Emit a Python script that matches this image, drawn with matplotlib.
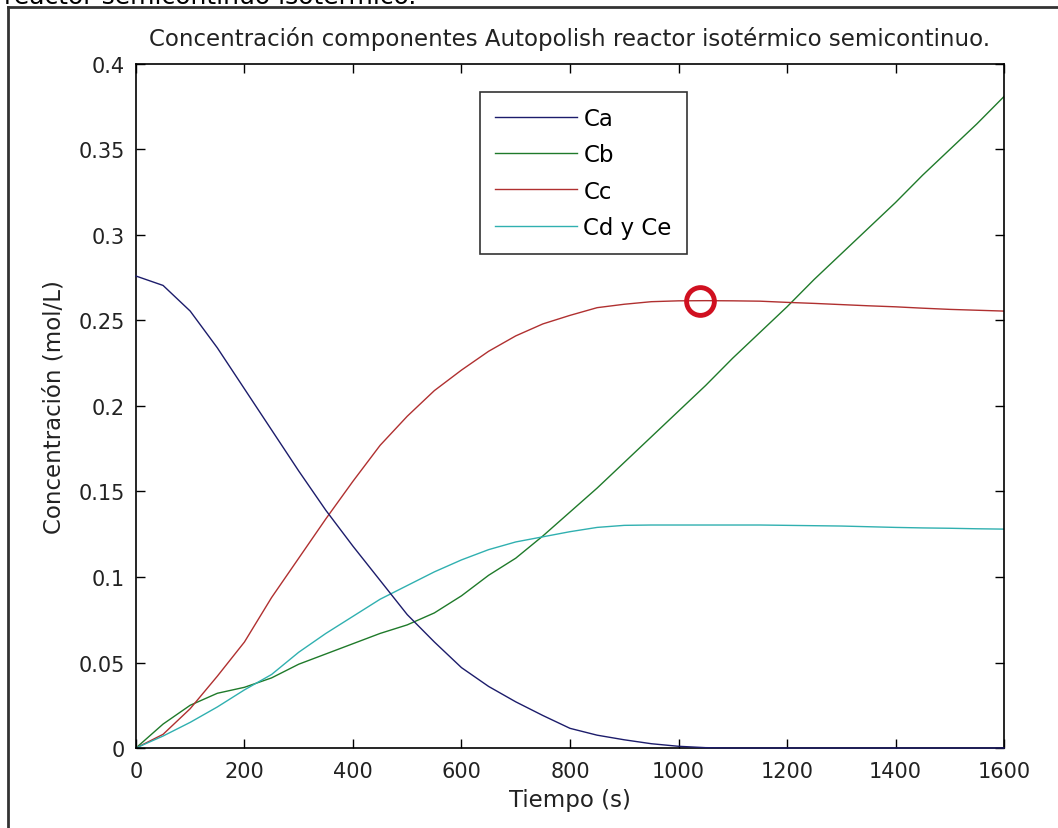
import numpy as np
import matplotlib
matplotlib.use("Agg")
import matplotlib.pyplot as plt
from matplotlib.lines import Line2D

# Concentraciones del reactor semicontinuo isotérmico (mol/L) frente al tiempo (s)
tiempo = [0, 50, 100, 150, 200, 250, 300, 350, 400, 450, 500, 550, 600, 650,
          700, 750, 800, 850, 900, 950, 1000, 1050, 1100, 1150, 1200, 1250,
          1300, 1350, 1400, 1450, 1500, 1550, 1600]

ca = [0.276, 0.2705, 0.2555, 0.234, 0.210, 0.186, 0.162, 0.139, 0.118, 0.098,
      0.078, 0.062, 0.047, 0.036, 0.027, 0.019, 0.0115, 0.0075, 0.0048, 0.0025,
      0.001, 0.0002, 0.0, 0.0, 0.0, 0.0, 0.0, 0.0, 0.0, 0.0, 0.0, 0.0, 0.0]

cb = [0.0, 0.014, 0.025, 0.032, 0.0355, 0.041, 0.049, 0.055, 0.061, 0.067,
      0.072, 0.079, 0.089, 0.101, 0.111, 0.124, 0.138, 0.152, 0.167, 0.182,
      0.197, 0.212, 0.228, 0.243, 0.258, 0.274, 0.289, 0.304, 0.319, 0.335,
      0.350, 0.365, 0.381]

cc = [0.0, 0.008, 0.023, 0.042, 0.062, 0.088, 0.111, 0.134, 0.156, 0.177,
      0.194, 0.209, 0.221, 0.232, 0.241, 0.248, 0.253, 0.2575, 0.2595, 0.261,
      0.2615, 0.2616, 0.2615, 0.2613, 0.2606, 0.260, 0.2593, 0.2586, 0.258,
      0.2572, 0.2565, 0.256, 0.2555]

cde = [0.0, 0.007, 0.015, 0.024, 0.034, 0.043, 0.056, 0.067, 0.077, 0.087,
       0.095, 0.103, 0.110, 0.116, 0.1205, 0.1235, 0.1265, 0.129, 0.1302, 0.1304,
       0.1304, 0.1304, 0.1304, 0.1304, 0.1302, 0.1300, 0.1298, 0.1294, 0.129,
       0.1287, 0.1285, 0.1282, 0.128]

# máximo de Cc
t_max = 1040
cc_max = 0.2616

etiquetas = ["Ca", "Cb", "Cc", "Cd y Ce"]
colores = ["#1c1c6b", "#1f7a2a", "#b03030", "#30b0b0"]

plt.rcParams['font.family'] = ['DejaVu Sans']

fig = plt.figure(figsize=(10.58, 8.29), dpi=100)
ax = fig.add_axes([0.1285, 0.0965, 0.8205, 0.8251])

for serie, nombre, color in zip([ca, cb, cc, cde], etiquetas, colores):
    ax.plot(tiempo, serie, color=color, lw=1.0, label=nombre)
# Ca se queda en cero sobre el eje inferior
ax.lines[0].set_clip_on(False)
ax.lines[0].set_zorder(5)

ax.plot([t_max], [cc_max], 'o', ms=20, mfc='none', mec='#d01020', mew=3.5)

ax.set_xlim(0, 1600)
ax.set_ylim(0, 0.4)
ax.set_xticks(np.arange(0, 1601, 200))
ax.set_yticks(np.arange(0, 0.401, 0.05))
ax.set_yticklabels(["0", "0.05", "0.1", "0.15", "0.2", "0.25", "0.3", "0.35", "0.4"])
ax.tick_params(direction='in', top=True, right=True, length=6.5, width=1.0,
               labelsize=15, labelcolor='#222222')
ax.tick_params(axis='x', pad=9.5)
ax.tick_params(axis='y', pad=8)
for s in ax.spines.values():
    s.set_linewidth(1.2)

ax.set_title("Concentración componentes Autopolish reactor isotérmico semicontinuo.",
             fontsize=16.5, pad=14, color='#222222')
ax.set_xlabel("Tiempo (s)", fontsize=16.5, labelpad=5, color='#222222')
ax.set_ylabel("Concentración (mol/L)", fontsize=16.5, labelpad=9, color='#222222')

leg = ax.legend(loc='upper left', bbox_to_anchor=(0.3963, 0.959), fontsize=16.5,
                frameon=True, fancybox=False, edgecolor='black',
                handlelength=3.6, handletextpad=0.26, labelspacing=0.58,
                borderpad=0.65, borderaxespad=0)
leg.get_frame().set_linewidth(1.2)

# marco exterior de la figura y texto superior recortado
fig.add_artist(Line2D([0.0076, 0.0076], [0, 0.9903], color='#333333', lw=2))
fig.add_artist(Line2D([0.0076, 1.0], [0.9903, 0.9903], color='#333333', lw=2))
fig.text(0.004, 0.9952, "reactor semicontinuo isotérmico.", fontsize=18,
         va='baseline', ha='left')

fig.savefig("out.png", dpi=100, facecolor='white')
